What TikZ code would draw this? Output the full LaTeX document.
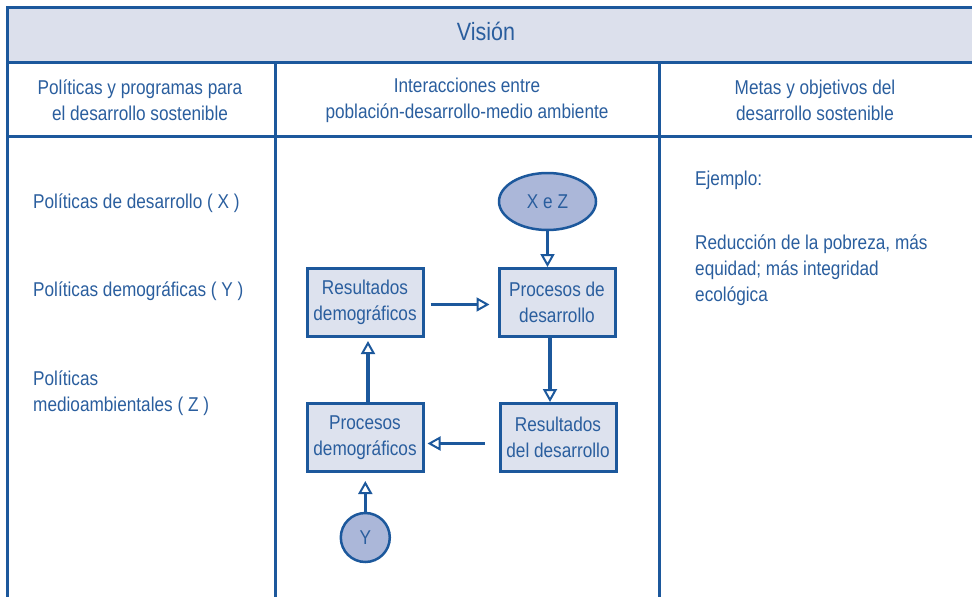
\documentclass[tikz,border=0pt]{standalone}
\usepackage{fontspec}
\setmainfont{Liberation Sans}[FakeStretch=0.86]
\usetikzlibrary{positioning,shapes.geometric,arrows.meta}

\definecolor{azulmarco}{HTML}{1C589C}
\definecolor{azultexto}{HTML}{2A5E9E}
\definecolor{grisfondo}{HTML}{DCE0EC}
\definecolor{azulcaja}{HTML}{DDE2EE}
\definecolor{azulovalo}{HTML}{ABB7D9}

\tikzset{
	marco/.style={draw=azulmarco, line width=3pt},
	letra/.style={text=azultexto, inner sep=0pt, font=\fontsize{20}{26}\selectfont},
	cabeza/.style={letra, align=center},
	lista/.style={letra, align=left, anchor=base west},
	caja/.style={letra, draw=azulmarco, line width=3pt, fill=azulcaja, align=center,
		minimum width=116pt, minimum height=68pt},
	ovalo/.style={letra, ellipse, draw=azulmarco, line width=2.5pt, fill=azulovalo,
		minimum width=97pt, minimum height=57pt},
	redondo/.style={letra, circle, draw=azulmarco, line width=2.5pt, fill=azulovalo,
		minimum size=49pt},
	flecha/.style={draw=azulmarco, line width=3.5pt,
		-{Triangle[fill=white, length=13pt, width=14pt, line width=2pt]}},
}

\begin{document}
\begin{tikzpicture}[x=1pt,y=-1pt]
	\useasboundingbox (0,0) rectangle (972,597);
	%% tabla
	\fill[grisfondo] (7.5,7.5) rectangle (972,62);
	\draw[marco] (972,7.5) -- (7.5,7.5) -- (7.5,597);
	\draw[marco] (7.5,62) -- (972,62);
	\draw[marco] (7.5,136) -- (972,136);
	\draw[marco] (275.7,62) -- (275.7,597);
	\draw[marco] (659.3,62) -- (659.3,597);
	%% cabeceras
	\node[letra, font=\fontsize{25}{30}\selectfont] (vision) at (486,31) {Visión};
	\node[cabeza] (col1) at (140,100.5) {Políticas y programas para\\el desarrollo sostenible};
	\node[cabeza] (col2) at (467,100.5) {Interacciones entre\\población-desarrollo-medio ambiente};
	\node[cabeza] (col3) at (815,100.5) {Metas y objetivos del\\desarrollo sostenible};
	%% columna izquierda
	\node[lista] (polx) at (33,208) {Políticas de desarrollo ( X )};
	\node[lista] (poly) at (33,296) {Políticas demográficas ( Y )};
	\node[lista] (polz) at (33,411) {Políticas\\medioambientales ( Z )};
	%% columna derecha
	\node[lista] (ejemplo) at (695,185) {Ejemplo:};
	\node[lista] (metas) at (695,301) {Reducción de la pobreza, más\\equidad; más integridad\\ecológica};
	%% diagrama central
	\node[caja] (rdem) at (365,302.5) {Resultados\\demográficos};
	\node[caja, right=73pt of rdem] (pdes) {Procesos de\\desarrollo};
	\node[caja, below=64pt of rdem] (pdem) {Procesos\\demográficos};
	\node[caja, right=74pt of pdem] (rdes) {Resultados\\del desarrollo};
	\node[ovalo] (xz) at (547.5,201.5) {X e Z};
	\node[redondo] (yy) at (365.3,537.5) {Y};
	% flechas
	\draw[flecha] (xz) -- (xz |- pdes.north);
	\draw[flecha, shorten <=6pt, shorten >=8pt] ([yshift=-2pt]rdem.east) -- ([yshift=-2pt]pdes.west);
	\draw[flecha] ([xshift=-7pt]pdes.south) -- ([xshift=-7pt]pdes.south |- rdes.north);
	\draw[flecha, shorten <=14pt, shorten >=3pt] ([yshift=-6pt]rdes.west) -- ([yshift=-6pt]pdem.east);
	\draw[flecha, shorten >=3pt] ([xshift=3pt]pdem.north) -- ([xshift=3pt]pdem.north |- rdem.south);
	\draw[flecha, shorten >=8pt] (yy) -- (yy |- pdem.south);
\end{tikzpicture}
\end{document}
